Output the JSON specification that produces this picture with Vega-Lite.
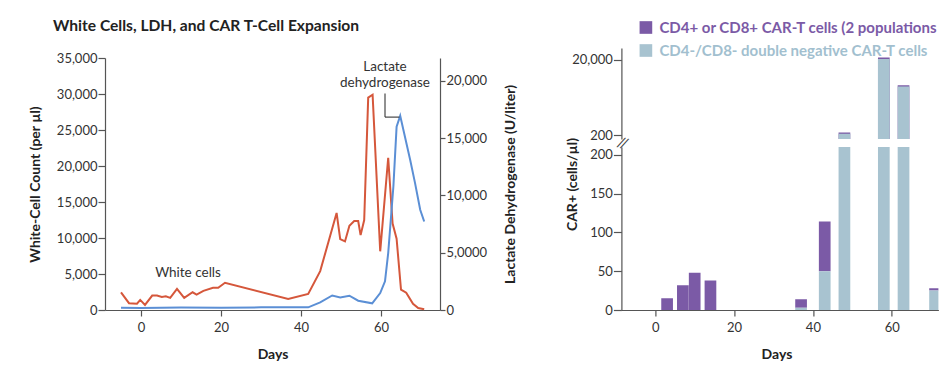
{
  "$schema": "https://vega.github.io/schema/vega-lite/v6.json",
  "autosize": {"type": "pad"},
  "padding": {"left": 28, "top": 19, "right": 0, "bottom": 4},
  "config": {
    "font": "Lato",
    "view": {"stroke": null},
    "axis": {
      "grid": false,
      "domainColor": "#555555",
      "tickColor": "#555555",
      "domainWidth": 1.2,
      "tickWidth": 1.2,
      "labelColor": "#333333",
      "labelFontSize": 13,
      "labelFont": "Lato",
      "titleFont": "Lato",
      "titleFontSize": 14,
      "titleFontWeight": "bold",
      "titleColor": "#222222",
      "tickSize": 7,
      "labelPadding": 1
    }
  },
  "datasets": {
    "wbc": [
      {"day": -5, "wbc": 2450}, {"day": -3, "wbc": 950}, {"day": -1, "wbc": 880}, {"day": -0.2, "wbc": 1400},
      {"day": 1, "wbc": 700}, {"day": 2.8, "wbc": 2000}, {"day": 4, "wbc": 2000}, {"day": 5.2, "wbc": 1820},
      {"day": 6.2, "wbc": 1900}, {"day": 7.3, "wbc": 1680}, {"day": 9, "wbc": 2940}, {"day": 10.8, "wbc": 1680},
      {"day": 12.9, "wbc": 2460}, {"day": 13.9, "wbc": 2140}, {"day": 15.6, "wbc": 2660}, {"day": 18, "wbc": 3080},
      {"day": 19.3, "wbc": 3080}, {"day": 21, "wbc": 3780}, {"day": 36.8, "wbc": 1540}, {"day": 41.8, "wbc": 2240},
      {"day": 44.8, "wbc": 5400}, {"day": 48.9, "wbc": 13480}, {"day": 49.8, "wbc": 9840}, {"day": 51, "wbc": 9520},
      {"day": 52.1, "wbc": 11700}, {"day": 53.3, "wbc": 12360}, {"day": 54.3, "wbc": 12360}, {"day": 54.9, "wbc": 10400},
      {"day": 55.8, "wbc": 12500}, {"day": 56.8, "wbc": 29500}, {"day": 57.9, "wbc": 29900}, {"day": 59.8, "wbc": 8150},
      {"day": 61.8, "wbc": 21150}, {"day": 62.9, "wbc": 12000}, {"day": 63.9, "wbc": 9900}, {"day": 65, "wbc": 2840},
      {"day": 66.3, "wbc": 2400}, {"day": 68, "wbc": 860}, {"day": 69.3, "wbc": 280}, {"day": 70.8, "wbc": 100}
    ],
    "ldh": [
      {"day": -5, "ldh": 200}, {"day": 0, "ldh": 180}, {"day": 10, "ldh": 220}, {"day": 20, "ldh": 200},
      {"day": 30, "ldh": 230}, {"day": 41.8, "ldh": 230}, {"day": 44.8, "ldh": 660}, {"day": 47.8, "ldh": 1270},
      {"day": 49.8, "ldh": 1100}, {"day": 52.1, "ldh": 1250}, {"day": 54.3, "ldh": 810}, {"day": 57.8, "ldh": 580},
      {"day": 59.8, "ldh": 1480}, {"day": 61, "ldh": 2500}, {"day": 61.8, "ldh": 4970}, {"day": 63.1, "ldh": 10800},
      {"day": 63.9, "ldh": 16000}, {"day": 64.8, "ldh": 16950}, {"day": 67.3, "ldh": 13100}, {"day": 68.5, "ldh": 11100},
      {"day": 69.8, "ldh": 8750}, {"day": 70.8, "ldh": 7730}
    ],
    "car": [
      {"day": 3, "population": "cd48", "count": 15},
      {"day": 7, "population": "cd48", "count": 32},
      {"day": 10, "population": "cd48", "count": 48},
      {"day": 14, "population": "cd48", "count": 38},
      {"day": 37, "population": "cd48", "count": 11},
      {"day": 43, "population": "cd48", "count": 64},
      {"day": 48, "population": "cd48", "count": 20},
      {"day": 58, "population": "cd48", "count": 2000},
      {"day": 63, "population": "cd48", "count": 330},
      {"day": 71, "population": "cd48", "count": 3},
      {"day": 37, "population": "dn", "count": 3},
      {"day": 43, "population": "dn", "count": 50},
      {"day": 48, "population": "dn", "count": 215},
      {"day": 58, "population": "dn", "count": 21000},
      {"day": 63, "population": "dn", "count": 3900},
      {"day": 71, "population": "dn", "count": 25}
    ]
  },
  "spacing": 46.4,
  "resolve": {"scale": {"x": "independent", "y": "independent", "color": "independent"}, "legend": {"color": "independent"}},
  "hconcat": [
    {
      "bounds": "flush",
      "spacing": 9,
      "resolve": {"scale": {"x": "independent", "y": "independent"}},
      "vconcat": [
        {
          "width": 335,
          "height": 1,
          "title": {
            "text": "White Cells, LDH, and CAR T-Cell Expansion",
            "anchor": "start",
            "frame": "group",
            "dx": -52,
            "offset": 13,
            "font": "Lato",
            "fontSize": 15.6,
            "fontWeight": "bold",
            "color": "#222222"
          },
          "data": {"values": []},
          "mark": {"type": "point", "opacity": 0},
          "encoding": {}
        },
        {
          "width": 335,
          "height": 252,
          "resolve": {"scale": {"y": "independent"}},
          "layer": [
            {
              "layer": [
                {
                  "data": {"name": "wbc"},
                  "mark": {"type": "line", "color": "#d5573b", "strokeWidth": 2},
                  "encoding": {
                    "x": {"field": "day", "type": "quantitative", "scale": {"domain": [-9, 74.75], "nice": false, "zero": false},
                      "axis": {"values": [0, 20, 40, 60], "title": "Days", "tickSize": 6, "labelPadding": 5, "titlePadding": 13}},
                    "y": {"field": "wbc", "type": "quantitative", "scale": {"domain": [0, 35000], "nice": false},
                      "axis": {"orient": "left", "values": [0, 5000, 10000, 15000, 20000, 25000, 30000, 35000], "labelExpr": "format(datum.value, ',')", "title": "White-Cell Count (per µl)", "titlePadding": 14}}
                  }
                },
                {
                  "data": {"values": [{}]},
                  "mark": {"type": "text", "text": "White cells", "fontSize": 13.5, "color": "#333333", "align": "center", "baseline": "middle"},
                  "encoding": {
                    "x": {"datum": 11.75, "type": "quantitative", "scale": {"domain": [-9, 74.75], "nice": false, "zero": false},
                      "axis": {"values": [0, 20, 40, 60], "title": "Days", "tickSize": 6, "labelPadding": 5, "titlePadding": 13}},
                    "y": {"datum": 5100, "type": "quantitative", "scale": {"domain": [0, 35000], "nice": false},
                      "axis": {"orient": "left", "values": [0, 5000, 10000, 15000, 20000, 25000, 30000, 35000], "labelExpr": "format(datum.value, ',')", "title": "White-Cell Count (per µl)", "titlePadding": 14}}
                  }
                }
              ]
            },
            {
              "layer": [
                {
                  "data": {"name": "ldh"},
                  "mark": {"type": "line", "color": "#5b8fd5", "strokeWidth": 2},
                  "encoding": {
                    "x": {"field": "day", "type": "quantitative", "scale": {"domain": [-9, 74.75], "nice": false, "zero": false},
                      "axis": {"values": [0, 20, 40, 60], "title": "Days", "tickSize": 6, "labelPadding": 5, "titlePadding": 13}},
                    "y": {"field": "ldh", "type": "quantitative", "scale": {"domain": [0, 22000], "nice": false},
                      "axis": {"orient": "right", "values": [0, 5000, 10000, 15000, 20000],
                        "labelExpr": "datum.value == 5000 ? '5,0000' : format(datum.value, ',')",
                        "title": "Lactate Dehydrogenase (U/liter)", "titleAngle": 270, "titleBaseline": "top", "titlePadding": 17, "tickSize": 5}}
                  }
                },
                {
                  "data": {"values": [{}]},
                  "mark": {"type": "text", "text": ["Lactate", "dehydrogenase"], "fontSize": 13.5, "lineHeight": 16, "color": "#333333", "align": "center", "baseline": "middle"},
                  "encoding": {
                    "x": {"datum": 61, "type": "quantitative", "scale": {"domain": [-9, 74.75], "nice": false, "zero": false},
                      "axis": {"values": [0, 20, 40, 60], "title": "Days", "tickSize": 6, "labelPadding": 5, "titlePadding": 13}},
                    "y": {"datum": 21200, "type": "quantitative", "scale": {"domain": [0, 22000], "nice": false},
                      "axis": {"orient": "right", "values": [0, 5000, 10000, 15000, 20000],
                        "labelExpr": "datum.value == 5000 ? '5,0000' : format(datum.value, ',')",
                        "title": "Lactate Dehydrogenase (U/liter)", "titleAngle": 270, "titleBaseline": "top", "titlePadding": 17, "tickSize": 5}}
                  }
                },
                {
                  "data": {"values": [{}]},
                  "mark": {"type": "rule", "color": "#222222", "strokeWidth": 1},
                  "encoding": {
                    "x": {"datum": 61, "type": "quantitative", "scale": {"domain": [-9, 74.75], "nice": false, "zero": false},
                      "axis": {"values": [0, 20, 40, 60], "title": "Days", "tickSize": 6, "labelPadding": 5, "titlePadding": 13}},
                    "y": {"datum": 18900, "type": "quantitative", "scale": {"domain": [0, 22000], "nice": false},
                      "axis": {"orient": "right", "values": [0, 5000, 10000, 15000, 20000],
                        "labelExpr": "datum.value == 5000 ? '5,0000' : format(datum.value, ',')",
                        "title": "Lactate Dehydrogenase (U/liter)", "titleAngle": 270, "titleBaseline": "top", "titlePadding": 17, "tickSize": 5}},
                    "y2": {"datum": 16840}
                  }
                },
                {
                  "data": {"values": [{}]},
                  "mark": {"type": "rule", "color": "#222222", "strokeWidth": 1},
                  "encoding": {
                    "x": {"datum": 61, "type": "quantitative", "scale": {"domain": [-9, 74.75], "nice": false, "zero": false},
                      "axis": {"values": [0, 20, 40, 60], "title": "Days", "tickSize": 6, "labelPadding": 5, "titlePadding": 13}},
                    "x2": {"datum": 64.6},
                    "y": {"datum": 16840, "type": "quantitative", "scale": {"domain": [0, 22000], "nice": false},
                      "axis": {"orient": "right", "values": [0, 5000, 10000, 15000, 20000],
                        "labelExpr": "datum.value == 5000 ? '5,0000' : format(datum.value, ',')",
                        "title": "Lactate Dehydrogenase (U/liter)", "titleAngle": 270, "titleBaseline": "top", "titlePadding": 17, "tickSize": 5}}
                  }
                }
              ]
            }
          ]
        }
      ]
    },
    {
      "bounds": "flush",
      "spacing": 8,
      "resolve": {"scale": {"x": "independent", "y": "independent"}},
      "vconcat": [
        {
          "width": 317,
          "height": 91,
          "data": {"name": "car"},
          "transform": [
            {"stack": "count", "groupby": ["day"], "sort": [{"field": "population", "order": "descending"}], "as": ["c0", "c1"]}
          ],
          "mark": {"type": "bar", "size": 11.7, "clip": true},
          "encoding": {
            "x": {"field": "day", "type": "quantitative", "scale": {"domain": [-8.6, 71.85], "nice": false, "zero": false, "padding": 0}, "axis": null},
            "y": {"field": "c1", "type": "quantitative", "stack": null,
              "scale": {"type": "log", "domain": [157, 41000], "nice": false},
              "axis": {"values": [200, 20000], "labelExpr": "format(datum.value, ',')", "title": null, "tickSize": 8}},
            "order": {"field": "population", "sort": "ascending"},
            "color": {"field": "population", "type": "nominal",
              "scale": {"domain": ["cd48", "dn"], "range": ["#7b5aa6", "#a8c3d0"]},
              "legend": {
                "orient": "none", "legendX": 17, "legendY": -28, "title": null, "direction": "vertical",
                "symbolType": "square", "symbolSize": 160, "symbolStrokeWidth": 0,
                "labelFont": "Lato", "labelFontSize": 15, "labelFontWeight": "bold", "labelLimit": 400,
                "labelOffset": 6, "rowPadding": 7,
                "labelExpr": "datum.value == 'dn' ? 'CD4-/CD8- double negative CAR-T cells' : 'CD4+ or CD8+ CAR-T cells (2 populations'",
                "encode": {"labels": {"update": {"fill": {"signal": "datum.value == 'dn' ? '#a2bfcf' : '#7b5aa6'"}}}}
              }
            }
          }
        },
        {
          "width": 317,
          "height": 163,
          "layer": [
            {
              "data": {"name": "car"},
              "transform": [
                {"stack": "count", "groupby": ["day"], "sort": [{"field": "population", "order": "descending"}], "as": ["c0", "c1"]}
              ],
              "mark": {"type": "bar", "size": 11.7, "clip": true},
              "encoding": {
                "x": {"field": "day", "type": "quantitative", "scale": {"domain": [-8.6, 71.85], "nice": false, "zero": false, "padding": 0},
                  "axis": {"values": [0, 20, 40, 60], "title": "Days", "tickSize": 6, "labelPadding": 5, "titlePadding": 13, "titleX": 155}},
                "y": {"field": "c1", "type": "quantitative", "stack": null, "scale": {"domain": [0, 210], "nice": false},
                  "axis": {"values": [0, 50, 100, 150, 200], "title": "CAR+ (cells/µl)", "tickSize": 8, "titleX": -42, "titleY": 37}},
                "y2": {"field": "c0"},
                "color": {"field": "population", "type": "nominal",
                  "scale": {"domain": ["cd48", "dn"], "range": ["#7b5aa6", "#a8c3d0"]},
                  "legend": {
                    "orient": "none", "legendX": 17, "legendY": -28, "title": null, "direction": "vertical",
                    "symbolType": "square", "symbolSize": 160, "symbolStrokeWidth": 0,
                    "labelFont": "Lato", "labelFontSize": 15, "labelFontWeight": "bold", "labelLimit": 400,
                    "labelOffset": 6, "rowPadding": 7,
                    "labelExpr": "datum.value == 'dn' ? 'CD4-/CD8- double negative CAR-T cells' : 'CD4+ or CD8+ CAR-T cells (2 populations'",
                    "encode": {"labels": {"update": {"fill": {"signal": "datum.value == 'dn' ? '#a2bfcf' : '#7b5aa6'"}}}}
                  }
                }
              }
            },
            {
              "data": {"values": [{}]},
              "mark": {"type": "text", "text": "//", "fontSize": 15, "angle": 20, "color": "#444444", "align": "center", "baseline": "middle", "clip": false, "dy": -4},
              "encoding": {
                "x": {"datum": -8.6, "type": "quantitative", "scale": {"domain": [-8.6, 71.85], "nice": false, "zero": false, "padding": 0},
                  "axis": {"values": [0, 20, 40, 60], "title": "Days", "tickSize": 6, "labelPadding": 5, "titlePadding": 13, "titleX": 155}},
                "y": {"datum": 210, "type": "quantitative", "scale": {"domain": [0, 210], "nice": false},
                  "axis": {"values": [0, 50, 100, 150, 200], "title": "CAR+ (cells/µl)", "tickSize": 8, "titleX": -42, "titleY": 37}}
              }
            }
          ]
        }
      ]
    }
  ]
}
